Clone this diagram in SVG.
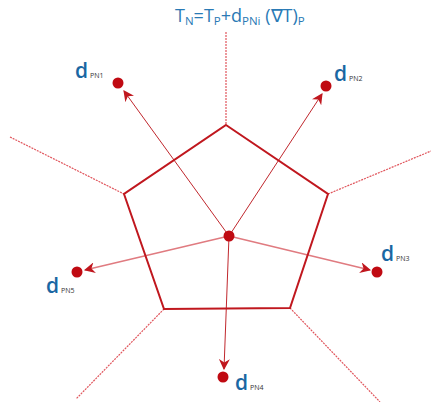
<svg xmlns="http://www.w3.org/2000/svg" width="431" height="402" viewBox="0 0 431 402">
<style>
.dash{stroke:#e0555c;stroke-width:1.2;stroke-dasharray:2 1;fill:none}
.pent{stroke:#c0171e;stroke-width:2;fill:none;stroke-linejoin:miter}
.arr{stroke:#c0272d;stroke-width:1;fill:none}
.arr2{stroke:#e07b80;stroke-width:1.6;fill:none}
.dot{fill:#c00a12}
.d{font-family:"Open Sans",sans-serif;font-size:21px;font-weight:600;fill:#1a67a3}
.sub{font-family:"Open Sans",sans-serif;font-size:7px;fill:#333}
.t{font-family:"Open Sans",sans-serif;font-size:18px;fill:#2a7ab5}
</style>
<defs>
<marker id="ah" viewBox="0 0 10 10" refX="9" refY="5" markerWidth="11" markerHeight="11" markerUnits="userSpaceOnUse" orient="auto">
<path d="M0,0 L10,5 L0,10 L3,5 Z" fill="#c0171e"/>
</marker>
</defs>
<g id="connectors">
<line class="dash" x1="226" y1="32" x2="226" y2="125"/>
<line class="dash" x1="10" y1="137" x2="124" y2="194"/>
<line class="dash" x1="328" y1="194" x2="431" y2="151"/>
<line class="dash" x1="164" y1="309" x2="76" y2="399"/>
<line class="dash" x1="290" y1="308" x2="380" y2="402"/>
<line class="arr" x1="229" y1="236" x2="124" y2="91" marker-end="url(#ah)"/>
<line class="arr" x1="229" y1="236" x2="322" y2="94" marker-end="url(#ah)"/>
<line class="arr2" x1="229" y1="236" x2="370" y2="270" marker-end="url(#ah)"/>
<line class="arr2" x1="229" y1="236" x2="85" y2="270" marker-end="url(#ah)"/>
<line class="arr" x1="229" y1="236" x2="224" y2="369" marker-end="url(#ah)"/>
</g>
<g id="cell">
<polygon class="pent" points="226,125 328,194 290,308 164,309 124,194"/>
</g>
<g id="P"><circle class="dot" cx="229" cy="236" r="5.5"/></g>
<g id="N1"><circle class="dot" cx="118" cy="83" r="5.5"/>
<text x="75" y="78"><tspan class="d">d</tspan><tspan class="sub" dx="2">PN1</tspan></text></g>
<g id="N2"><circle class="dot" cx="326" cy="86" r="5.5"/>
<text x="334" y="81"><tspan class="d">d</tspan><tspan class="sub" dx="2">PN2</tspan></text></g>
<g id="N3"><circle class="dot" cx="377" cy="272" r="5.5"/>
<text x="381" y="261"><tspan class="d">d</tspan><tspan class="sub" dx="2">PN3</tspan></text></g>
<g id="N5"><circle class="dot" cx="77" cy="272" r="5.5"/>
<text x="46" y="293"><tspan class="d">d</tspan><tspan class="sub" dx="2">PN5</tspan></text></g>
<g id="N4"><circle class="dot" cx="223" cy="377" r="5.5"/>
<text x="235" y="390"><tspan class="d">d</tspan><tspan class="sub" dx="2">PN4</tspan></text></g>
<g id="title">
<text class="t" x="175" y="22">T<tspan font-size="11.5" dy="3">N</tspan><tspan dy="-3">=T</tspan><tspan font-size="11.5" dy="3">P</tspan><tspan dy="-3">+d</tspan><tspan font-size="11.5" dy="3">PNi</tspan><tspan dy="-3"> (∇T)</tspan><tspan font-size="11.5" dy="3">P</tspan></text>
</g>
</svg>
